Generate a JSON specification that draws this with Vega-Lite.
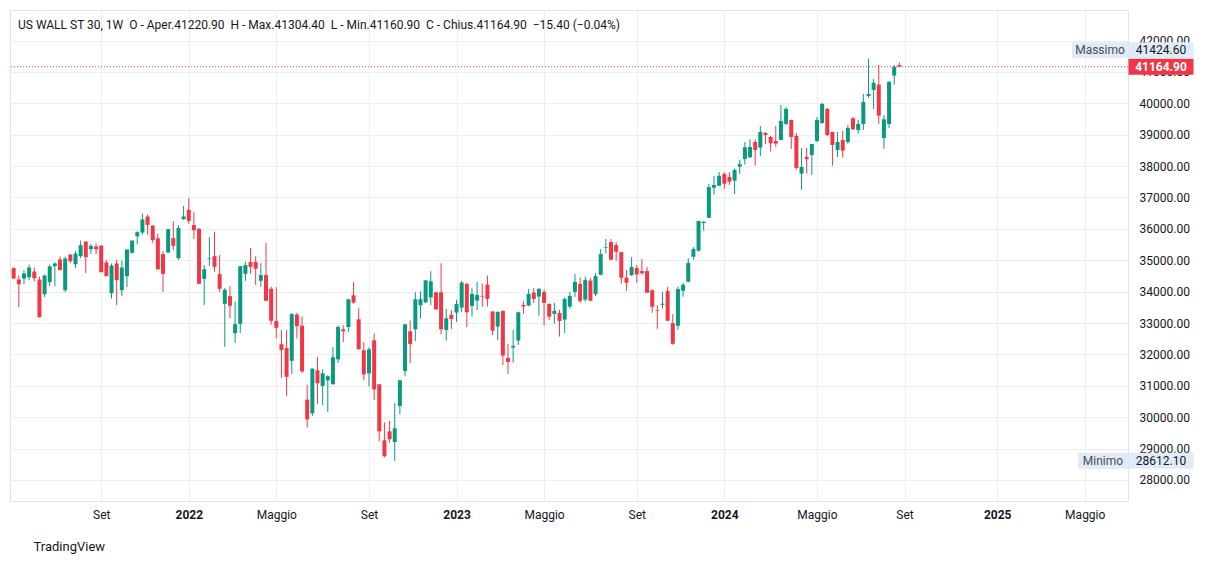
{
  "$schema": "https://vega.github.io/schema/vega-lite/v6.json",
  "width": 1118,
  "height": 491,
  "autosize": {"type": "none"},
  "padding": {"left": 10, "top": 10, "right": 81, "bottom": 63},
  "background": "#ffffff",
  "title": {
    "text": "US WALL ST 30, 1W\u00a0\u00a0O - Aper.41220.90\u00a0\u00a0H - Max.41304.40\u00a0\u00a0L - Min.41160.90\u00a0\u00a0C - Chius.41164.90\u00a0\u00a0\u221215.40 (\u22120.04%)",
    "anchor": "start",
    "frame": "group",
    "offset": -22,
    "dx": 8,
    "fontSize": 12,
    "fontWeight": "normal",
    "color": "#131722",
    "font": "Roboto"
  },
  "data": {
    "values": [
      {"date":"2021-05-10","open":34750,"high":34780,"low":34400,"close":34420},
      {"date":"2021-05-17","open":34386,"high":34513,"low":33504,"close":34237},
      {"date":"2021-05-24","open":34418,"high":34683,"low":34237,"close":34577},
      {"date":"2021-05-31","open":34460,"high":34864,"low":34365,"close":34768},
      {"date":"2021-06-07","open":34641,"high":34768,"low":34333,"close":34428},
      {"date":"2021-06-14","open":34386,"high":34481,"low":33170,"close":33186},
      {"date":"2021-06-21","open":33918,"high":34545,"low":33823,"close":34513},
      {"date":"2021-06-28","open":34301,"high":34864,"low":34173,"close":34800},
      {"date":"2021-07-05","open":34811,"high":34938,"low":34173,"close":34896},
      {"date":"2021-07-12","open":35023,"high":35119,"low":34683,"close":34683},
      {"date":"2021-07-19","open":34046,"high":35119,"low":33982,"close":35055},
      {"date":"2021-07-26","open":35182,"high":35182,"low":34906,"close":34970},
      {"date":"2021-08-02","open":34874,"high":35288,"low":34747,"close":35214},
      {"date":"2021-08-09","open":35129,"high":35628,"low":35065,"close":35480},
      {"date":"2021-08-16","open":35596,"high":35596,"low":34588,"close":35097},
      {"date":"2021-08-23","open":35352,"high":35511,"low":35203,"close":35458},
      {"date":"2021-08-30","open":35437,"high":35533,"low":35203,"close":35352},
      {"date":"2021-09-06","open":35469,"high":35469,"low":34619,"close":34619},
      {"date":"2021-09-13","open":34927,"high":35012,"low":34492,"close":34492},
      {"date":"2021-09-20","open":33950,"high":34896,"low":33780,"close":34832},
      {"date":"2021-09-27","open":34896,"high":35012,"low":33568,"close":34365},
      {"date":"2021-10-04","open":34046,"high":34991,"low":33855,"close":34768},
      {"date":"2021-10-11","open":34492,"high":35342,"low":34142,"close":35342},
      {"date":"2021-10-18","open":35235,"high":35628,"low":35214,"close":35628},
      {"date":"2021-10-25","open":35766,"high":35926,"low":35501,"close":35894},
      {"date":"2021-11-01","open":35883,"high":36489,"low":35819,"close":36297},
      {"date":"2021-11-08","open":36393,"high":36457,"low":35819,"close":36127},
      {"date":"2021-11-15","open":36106,"high":36106,"low":35554,"close":35639},
      {"date":"2021-11-22","open":35700,"high":35850,"low":34700,"close":34710},
      {"date":"2021-11-29","open":35194,"high":35300,"low":33995,"close":34568},
      {"date":"2021-12-06","open":35248,"high":35991,"low":35227,"close":35991},
      {"date":"2021-12-13","open":35704,"high":36246,"low":35322,"close":35460},
      {"date":"2021-12-20","open":35067,"high":36119,"low":35014,"close":36023},
      {"date":"2021-12-27","open":36310,"high":36735,"low":36278,"close":36395},
      {"date":"2022-01-03","open":36607,"high":36979,"low":36162,"close":36257},
      {"date":"2022-01-10","open":36119,"high":36533,"low":35673,"close":35959},
      {"date":"2022-01-17","open":36002,"high":36023,"low":34249,"close":34249},
      {"date":"2022-01-24","open":34409,"high":34844,"low":33570,"close":34717},
      {"date":"2022-01-31","open":35046,"high":35736,"low":34823,"close":35067},
      {"date":"2022-02-07","open":35131,"high":35906,"low":34632,"close":34791},
      {"date":"2022-02-14","open":34557,"high":35163,"low":33995,"close":34090},
      {"date":"2022-02-21","open":33612,"high":34122,"low":32242,"close":34058},
      {"date":"2022-02-28","open":33857,"high":34175,"low":33145,"close":33549},
      {"date":"2022-03-07","open":32678,"high":33687,"low":32370,"close":32964},
      {"date":"2022-03-14","open":32975,"high":34812,"low":32688,"close":34812},
      {"date":"2022-03-21","open":34568,"high":34950,"low":34345,"close":34844},
      {"date":"2022-03-28","open":34940,"high":35386,"low":34568,"close":34791},
      {"date":"2022-04-04","open":34940,"high":35131,"low":34218,"close":34727},
      {"date":"2022-04-11","open":34345,"high":34908,"low":34154,"close":34526},
      {"date":"2022-04-18","open":34526,"high":35556,"low":33708,"close":33708},
      {"date":"2022-04-25","open":34090,"high":34154,"low":32943,"close":33071},
      {"date":"2022-05-02","open":33060,"high":34143,"low":32508,"close":32848},
      {"date":"2022-05-09","open":32327,"high":32773,"low":31255,"close":32136},
      {"date":"2022-05-16","open":32200,"high":32773,"low":30681,"close":31286},
      {"date":"2022-05-23","open":31796,"high":33315,"low":31382,"close":33283},
      {"date":"2022-05-30","open":33270,"high":33330,"low":32513,"close":32900},
      {"date":"2022-06-06","open":32915,"high":33205,"low":31405,"close":31460},
      {"date":"2022-06-13","open":30560,"high":31035,"low":29675,"close":29933},
      {"date":"2022-06-20","open":30124,"high":31547,"low":30039,"close":31547},
      {"date":"2022-06-27","open":31494,"high":31918,"low":30432,"close":31080},
      {"date":"2022-07-04","open":30995,"high":31525,"low":30389,"close":31398},
      {"date":"2022-07-11","open":31175,"high":31340,"low":30166,"close":31303},
      {"date":"2022-07-18","open":31048,"high":32227,"low":31048,"close":31908},
      {"date":"2022-07-25","open":31844,"high":32927,"low":31727,"close":32874},
      {"date":"2022-08-01","open":32800,"high":32927,"low":32396,"close":32736},
      {"date":"2022-08-08","open":32874,"high":33756,"low":32715,"close":33756},
      {"date":"2022-08-15","open":33883,"high":34297,"low":33618,"close":33650},
      {"date":"2022-08-22","open":33119,"high":33469,"low":32163,"close":32163},
      {"date":"2022-08-29","open":32131,"high":32386,"low":31175,"close":31366},
      {"date":"2022-09-05","open":31398,"high":32227,"low":30984,"close":32163},
      {"date":"2022-09-12","open":32450,"high":32673,"low":30549,"close":30888},
      {"date":"2022-09-19","open":31048,"high":31048,"low":29232,"close":29550},
      {"date":"2022-09-26","open":29263,"high":29837,"low":28722,"close":28754},
      {"date":"2022-10-03","open":29550,"high":29879,"low":29189,"close":29295},
      {"date":"2022-10-10","open":29210,"high":30442,"low":28612.1,"close":29646},
      {"date":"2022-10-17","open":30357,"high":31175,"low":30092,"close":31175},
      {"date":"2022-10-24","open":31472,"high":32959,"low":31303,"close":32959},
      {"date":"2022-10-31","open":32736,"high":33087,"low":31717,"close":32333},
      {"date":"2022-11-07","open":32800,"high":33979,"low":32428,"close":33756},
      {"date":"2022-11-14","open":33565,"high":34011,"low":33150,"close":33756},
      {"date":"2022-11-21","open":33660,"high":34361,"low":33640,"close":34361},
      {"date":"2022-11-28","open":33819,"high":34648,"low":33575,"close":34329},
      {"date":"2022-12-05","open":33979,"high":33990,"low":33416,"close":33437},
      {"date":"2022-12-12","open":33979,"high":34900,"low":32641,"close":32800},
      {"date":"2022-12-19","open":32780,"high":33449,"low":32441,"close":33152},
      {"date":"2022-12-26","open":33258,"high":33418,"low":32812,"close":33131},
      {"date":"2023-01-02","open":33333,"high":33736,"low":33035,"close":33609},
      {"date":"2023-01-09","open":33492,"high":34342,"low":33343,"close":34288},
      {"date":"2023-01-16","open":34246,"high":34278,"low":32876,"close":33343},
      {"date":"2023-01-23","open":33545,"high":34108,"low":33205,"close":33927},
      {"date":"2023-01-30","open":33715,"high":34310,"low":33418,"close":33896},
      {"date":"2023-02-06","open":33864,"high":34257,"low":33513,"close":33842},
      {"date":"2023-02-13","open":34225,"high":34511,"low":33524,"close":33768},
      {"date":"2023-02-20","open":33365,"high":33380,"low":32621,"close":32759},
      {"date":"2023-02-27","open":32887,"high":33370,"low":32462,"close":33354},
      {"date":"2023-03-06","open":33386,"high":33400,"low":31665,"close":31963},
      {"date":"2023-03-13","open":31888,"high":32334,"low":31379,"close":31761},
      {"date":"2023-03-20","open":32218,"high":32780,"low":31740,"close":32271},
      {"date":"2023-03-27","open":32441,"high":33365,"low":32303,"close":33343},
      {"date":"2023-04-03","open":33577,"high":33704,"low":33290,"close":33524},
      {"date":"2023-04-10","open":33556,"high":34087,"low":33540,"close":33927},
      {"date":"2023-04-17","open":33970,"high":34119,"low":33641,"close":33768},
      {"date":"2023-04-24","open":33842,"high":34119,"low":33237,"close":34087},
      {"date":"2023-05-01","open":33991,"high":34065,"low":32918,"close":33641},
      {"date":"2023-05-08","open":33609,"high":33620,"low":33099,"close":33205},
      {"date":"2023-05-15","open":33290,"high":33641,"low":32972,"close":33386},
      {"date":"2023-05-22","open":33322,"high":33418,"low":32568,"close":33067},
      {"date":"2023-05-29","open":33110,"high":33811,"low":32685,"close":33768},
      {"date":"2023-06-05","open":33524,"high":33991,"low":33460,"close":33864},
      {"date":"2023-06-12","open":33991,"high":34565,"low":33832,"close":34310},
      {"date":"2023-06-19","open":34246,"high":34448,"low":33641,"close":33704},
      {"date":"2023-06-26","open":33747,"high":34480,"low":33683,"close":34373},
      {"date":"2023-07-03","open":34350,"high":34432,"low":33700,"close":33710},
      {"date":"2023-07-10","open":33922,"high":34591,"low":33858,"close":34495},
      {"date":"2023-07-17","open":34538,"high":35356,"low":34520,"close":35196},
      {"date":"2023-07-24","open":35398,"high":35674,"low":35218,"close":35419},
      {"date":"2023-07-31","open":35579,"high":35674,"low":35016,"close":35016},
      {"date":"2023-08-07","open":35483,"high":35579,"low":34984,"close":35271},
      {"date":"2023-08-14","open":35260,"high":35270,"low":34251,"close":34442},
      {"date":"2023-08-21","open":34442,"high":34697,"low":34028,"close":34283},
      {"date":"2023-08-28","open":34527,"high":35101,"low":34495,"close":34782},
      {"date":"2023-09-04","open":34750,"high":34846,"low":34283,"close":34549},
      {"date":"2023-09-11","open":34655,"high":35037,"low":34538,"close":34591},
      {"date":"2023-09-18","open":34655,"high":34782,"low":33964,"close":33964},
      {"date":"2023-09-25","open":34049,"high":34060,"low":33327,"close":33518},
      {"date":"2023-10-02","open":33412,"high":33571,"low":32817,"close":33391},
      {"date":"2023-10-09","open":33582,"high":33986,"low":33455,"close":33614},
      {"date":"2023-10-16","open":34018,"high":34156,"low":33072,"close":33072},
      {"date":"2023-10-23","open":32998,"high":33285,"low":32308,"close":32339},
      {"date":"2023-10-30","open":32913,"high":34156,"low":32786,"close":34081},
      {"date":"2023-11-06","open":34028,"high":34283,"low":33837,"close":34219},
      {"date":"2023-11-13","open":34315,"high":35069,"low":34300,"close":34910},
      {"date":"2023-11-20","open":35111,"high":35419,"low":35016,"close":35356},
      {"date":"2023-11-27","open":35303,"high":36248,"low":35271,"close":36248},
      {"date":"2023-12-04","open":36184,"high":36248,"low":35940,"close":36226},
      {"date":"2023-12-11","open":36354,"high":37427,"low":36340,"close":37331},
      {"date":"2023-12-18","open":37310,"high":37681,"low":37087,"close":37395},
      {"date":"2023-12-25","open":37373,"high":37809,"low":37360,"close":37692},
      {"date":"2024-01-01","open":37745,"high":37809,"low":37278,"close":37437},
      {"date":"2024-01-08","open":37650,"high":37805,"low":37400,"close":37503},
      {"date":"2024-01-15","open":37536,"high":37929,"low":37111,"close":37876},
      {"date":"2024-01-22","open":37982,"high":38195,"low":37749,"close":38067},
      {"date":"2024-01-29","open":38226,"high":38768,"low":38046,"close":38598},
      {"date":"2024-02-05","open":38280,"high":38853,"low":38258,"close":38609},
      {"date":"2024-02-12","open":38768,"high":38853,"low":38014,"close":38513},
      {"date":"2024-02-19","open":38588,"high":39278,"low":38322,"close":39087},
      {"date":"2024-02-26","open":39055,"high":39087,"low":38694,"close":38991},
      {"date":"2024-03-04","open":38927,"high":38959,"low":38460,"close":38726},
      {"date":"2024-03-11","open":38800,"high":39278,"low":38619,"close":38715},
      {"date":"2024-03-18","open":38832,"high":39947,"low":38820,"close":39437},
      {"date":"2024-03-25","open":39342,"high":39883,"low":39310,"close":39819},
      {"date":"2024-04-01","open":39469,"high":39480,"low":38545,"close":38927},
      {"date":"2024-04-08","open":38959,"high":39055,"low":37887,"close":37940},
      {"date":"2024-04-15","open":37759,"high":38577,"low":37249,"close":37972},
      {"date":"2024-04-22","open":38290,"high":38577,"low":37759,"close":38226},
      {"date":"2024-04-29","open":38354,"high":38704,"low":37717,"close":38704},
      {"date":"2024-05-06","open":38800,"high":39565,"low":38768,"close":39469},
      {"date":"2024-05-13","open":39373,"high":40011,"low":39342,"close":39979},
      {"date":"2024-05-20","open":39819,"high":39851,"low":38959,"close":38991},
      {"date":"2024-05-27","open":39087,"high":39090,"low":38014,"close":38673},
      {"date":"2024-06-03","open":38513,"high":39087,"low":38290,"close":38768},
      {"date":"2024-06-10","open":38832,"high":39119,"low":38269,"close":38492},
      {"date":"2024-06-17","open":38768,"high":39310,"low":38704,"close":39214},
      {"date":"2024-06-24","open":39522,"high":39565,"low":39150,"close":39172},
      {"date":"2024-07-01","open":39150,"high":39469,"low":39034,"close":39342},
      {"date":"2024-07-08","open":39342,"high":40297,"low":39150,"close":40042},
      {"date":"2024-07-15","open":40234,"high":41424.6,"low":40170,"close":40297},
      {"date":"2024-07-22","open":40425,"high":40775,"low":39819,"close":40658},
      {"date":"2024-07-29","open":40595,"high":41221,"low":39342,"close":39607},
      {"date":"2024-08-05","open":38896,"high":39618,"low":38545,"close":39490},
      {"date":"2024-08-12","open":39342,"high":40712,"low":39214,"close":40680},
      {"date":"2024-08-19","open":40881,"high":41221,"low":40595,"close":41158},
      {"date":"2024-08-26","open":41220.9,"high":41304.4,"low":41160.9,"close":41164.9}
    ]
  },
  "layer": [
    {
      "encoding": {
        "x": {
          "field": "date",
          "type": "temporal",
          "title": "TradingView",
          "scale": {
            "type": "utc",
            "domain": [
              {"year": 2021, "month": 5, "date": 11, "hours": 19, "utc": true},
              {"year": 2025, "month": 6, "date": 26, "utc": true}
            ]
          },
          "axis": {
            "values": [
              {"year": 2021, "month": 9, "date": 6, "utc": true},
              {"year": 2022, "month": 1, "date": 3, "utc": true},
              {"year": 2022, "month": 5, "date": 2, "utc": true},
              {"year": 2022, "month": 9, "date": 5, "utc": true},
              {"year": 2023, "month": 1, "date": 2, "utc": true},
              {"year": 2023, "month": 5, "date": 1, "utc": true},
              {"year": 2023, "month": 9, "date": 4, "utc": true},
              {"year": 2024, "month": 1, "date": 1, "utc": true},
              {"year": 2024, "month": 5, "date": 6, "utc": true},
              {"year": 2024, "month": 9, "date": 2, "utc": true},
              {"year": 2025, "month": 1, "date": 6, "utc": true},
              {"year": 2025, "month": 5, "date": 5, "utc": true}
            ],
            "labelExpr": "utcmonth(datum.value) == 0 ? utcFormat(datum.value, '%Y') : (utcmonth(datum.value) == 4 ? 'Maggio' : 'Set')",
            "labelFontWeight": {"condition": {"test": "utcmonth(datum.value) == 0", "value": "bold"}, "value": "normal"},
            "grid": true,
            "gridColor": "#eceff2",
            "ticks": false,
            "domain": false,
            "labelPadding": 8,
            "labelFontSize": 12,
            "labelColor": "#131722",
            "labelFont": "Roboto",
            "labelFlush": false,
            "labelOverlap": false,
            "titleAnchor": "start",
            "titleAlign": "left",
            "titleBaseline": "middle",
            "titleX": 23,
            "titleY": 45,
            "titleFontSize": 13,
            "titleFontWeight": "normal",
            "titleColor": "#131722",
            "titleFont": "Roboto"
          }
        },
        "color": {"condition": {"test": "datum.close >= datum.open", "value": "#089981"}, "value": "#F23645"}
      },
      "layer": [
        {
          "mark": {"type": "rule", "clip": true, "strokeWidth": 1},
          "encoding": {
            "y": {
              "field": "low",
              "type": "quantitative",
              "title": null,
              "scale": {"domain": [27330, 42972], "nice": false, "zero": false},
              "axis": {"orient": "right", "values": [28000, 29000, 30000, 31000, 32000, 33000, 34000, 35000, 36000, 37000, 38000, 39000, 40000, 41000, 42000], "format": ".2f", "grid": true, "gridColor": "#eceff2", "ticks": false, "domain": false, "labelPadding": 11, "labelFontSize": 12, "labelColor": "#131722", "labelFont": "Roboto", "labelFlush": false, "labelOverlap": false, "title": null}
            },
            "y2": {"field": "high"}
          }
        },
        {
          "mark": {"type": "bar", "clip": true, "width": 4},
          "encoding": {
            "y": {"field": "open", "type": "quantitative", "title": null,
              "axis": {"orient": "right", "values": [28000, 29000, 30000, 31000, 32000, 33000, 34000, 35000, 36000, 37000, 38000, 39000, 40000, 41000, 42000], "format": ".2f", "grid": true, "gridColor": "#eceff2", "ticks": false, "domain": false, "labelPadding": 11, "labelFontSize": 12, "labelColor": "#131722", "labelFont": "Roboto", "labelFlush": false, "labelOverlap": false, "title": null}},
            "y2": {"field": "close"}
          }
        }
      ]
    },
    {
      "transform": [{"aggregate": [{"op": "argmax", "field": "date", "as": "last"}]}],
      "encoding": {
        "y": {"field": "last.close", "type": "quantitative", "title": null,
          "axis": {"orient": "right", "values": [28000, 29000, 30000, 31000, 32000, 33000, 34000, 35000, 36000, 37000, 38000, 39000, 40000, 41000, 42000], "format": ".2f", "grid": true, "gridColor": "#eceff2", "ticks": false, "domain": false, "labelPadding": 11, "labelFontSize": 12, "labelColor": "#131722", "labelFont": "Roboto", "labelFlush": false, "labelOverlap": false, "title": null}}
      },
      "layer": [
        {
          "mark": {"type": "rule", "color": "#F23645", "strokeWidth": 1, "strokeDash": [1, 2]}
        },
        {
          "mark": {"type": "point", "shape": "M-1,-0.246H1V0.246H-1Z", "size": 4225, "filled": true, "color": "#F23645", "opacity": 1, "strokeWidth": 0, "xOffset": 33},
          "encoding": {"x": {"value": "width"}}
        },
        {
          "mark": {"type": "text", "color": "#ffffff", "fontSize": 12, "fontWeight": "bold", "font": "Roboto", "align": "center", "baseline": "middle", "xOffset": 33},
          "encoding": {
            "x": {"value": "width"},
            "text": {"field": "last.close", "type": "quantitative", "format": ".2f"}
          }
        }
      ]
    },
    {
      "transform": [{"aggregate": [{"op": "max", "field": "high", "as": "hi"}]}],
      "encoding": {
        "x": {"value": "width"},
        "y": {"field": "hi", "type": "quantitative", "title": null,
          "axis": {"orient": "right", "values": [28000, 29000, 30000, 31000, 32000, 33000, 34000, 35000, 36000, 37000, 38000, 39000, 40000, 41000, 42000], "format": ".2f", "grid": true, "gridColor": "#eceff2", "ticks": false, "domain": false, "labelPadding": 11, "labelFontSize": 12, "labelColor": "#131722", "labelFont": "Roboto", "labelFlush": false, "labelOverlap": false, "title": null}}
      },
      "layer": [
        {"mark": {"type": "point", "shape": "M-1,-0.2857H1V0.2857H-1Z", "size": 3136, "filled": true, "color": "#e1ebf8", "opacity": 1, "strokeWidth": 0, "xOffset": -28, "yOffset": -8.3}},
        {"mark": {"type": "point", "shape": "M-1,-0.246H1V0.246H-1Z", "size": 4225, "filled": true, "color": "#e1ebf8", "opacity": 1, "strokeWidth": 0, "xOffset": 33, "yOffset": -8.3}},
        {
          "mark": {"type": "text", "color": "#4a4e58", "fontSize": 12, "font": "Roboto", "align": "center", "baseline": "middle", "xOffset": -28, "yOffset": -8.3},
          "encoding": {"text": {"value": "Massimo"}}
        },
        {
          "mark": {"type": "text", "color": "#131722", "fontSize": 12, "font": "Roboto", "align": "center", "baseline": "middle", "xOffset": 33, "yOffset": -8.3},
          "encoding": {"text": {"field": "hi", "type": "quantitative", "format": ".2f"}}
        }
      ]
    },
    {
      "transform": [{"aggregate": [{"op": "min", "field": "low", "as": "lo"}]}],
      "encoding": {
        "x": {"value": "width"},
        "y": {"field": "lo", "type": "quantitative", "title": null,
          "axis": {"orient": "right", "values": [28000, 29000, 30000, 31000, 32000, 33000, 34000, 35000, 36000, 37000, 38000, 39000, 40000, 41000, 42000], "format": ".2f", "grid": true, "gridColor": "#eceff2", "ticks": false, "domain": false, "labelPadding": 11, "labelFontSize": 12, "labelColor": "#131722", "labelFont": "Roboto", "labelFlush": false, "labelOverlap": false, "title": null}}
      },
      "layer": [
        {"mark": {"type": "point", "shape": "M-1,-0.32H1V0.32H-1Z", "size": 2500, "filled": true, "color": "#e1ebf8", "opacity": 1, "strokeWidth": 0, "xOffset": -25}},
        {"mark": {"type": "point", "shape": "M-1,-0.246H1V0.246H-1Z", "size": 4225, "filled": true, "color": "#e1ebf8", "opacity": 1, "strokeWidth": 0, "xOffset": 33}},
        {
          "mark": {"type": "text", "color": "#4a4e58", "fontSize": 12, "font": "Roboto", "align": "center", "baseline": "middle", "xOffset": -25},
          "encoding": {"text": {"value": "Minimo"}}
        },
        {
          "mark": {"type": "text", "color": "#131722", "fontSize": 12, "font": "Roboto", "align": "center", "baseline": "middle", "xOffset": 33},
          "encoding": {"text": {"field": "lo", "type": "quantitative", "format": ".2f"}}
        }
      ]
    }
  ],
  "config": {
    "view": {"stroke": "#e0e3eb", "strokeWidth": 1},
    "font": "Roboto"
  }
}
